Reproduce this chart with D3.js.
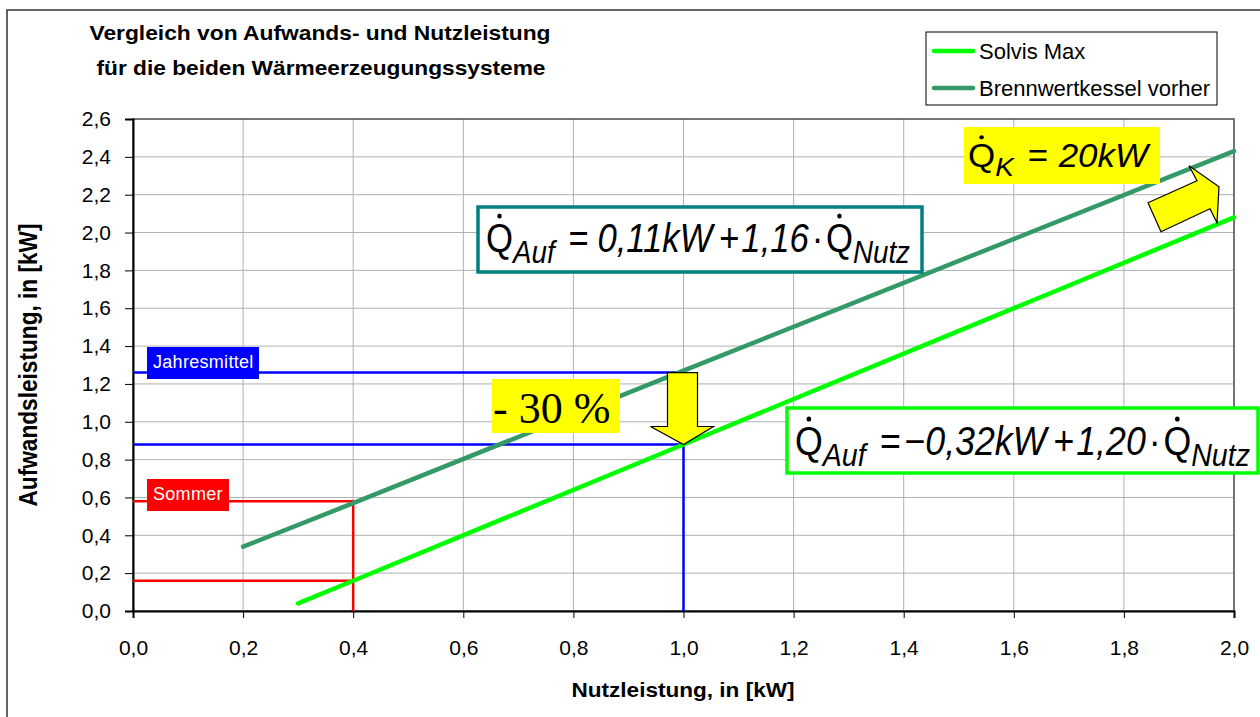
<!DOCTYPE html>
<html>
<head>
<meta charset="utf-8">
<script src="https://cdn.jsdelivr.net/npm/d3@7.9.0/dist/d3.min.js"></script>
<style>
  body { margin: 0; background: #fff; }
  svg { display: block; font-family: "Liberation Sans", Arial, sans-serif; }
</style>
</head>
<body>
<svg width="1260" height="717"></svg>
<script>
// Chart data
const xTicks = [0, 0.2, 0.4, 0.6, 0.8, 1.0, 1.2, 1.4, 1.6, 1.8, 2.0];
const yTicks = [0, 0.2, 0.4, 0.6, 0.8, 1.0, 1.2, 1.4, 1.6, 1.8, 2.0, 2.2, 2.4, 2.6];

const seriesNames = ['Solvis Max', 'Brennwertkessel vorher'];
const seriesColors = ['#00ff00', '#339966'];
const solvisX = [0.3, 0.4, 1.0, 2.0];
const solvisY = [0.04, 0.16, 0.88, 2.08];
const kesselX = [0.2, 0.4, 1.0, 2.0];
const kesselY = [0.34, 0.57, 1.27, 2.43];

// Markierungen Sommer / Jahresmittel
const sommerX = 0.4;
const sommerY = [0.58, 0.16];
const jahrX = 1.0;
const jahrY = [1.26, 0.88];

const svg = d3.select('svg');
const x = d3.scaleLinear().domain([0, 2]).range([133, 1234]);
const y = d3.scaleLinear().domain([0, 2.6]).range([611, 119]);
const fmt = (d) => d3.format('.1f')(d).replace('.', ',');

// outer frame
svg.append('rect').attr('x', 7).attr('y', 10).attr('width', 1300).attr('height', 760)
  .attr('fill', 'none').attr('stroke', '#333').attr('stroke-width', 1.5);

// grid
svg.append('g').selectAll('line').data(xTicks.slice(1)).join('line')
  .attr('x1', (d) => x(d)).attr('x2', (d) => x(d)).attr('y1', y(0)).attr('y2', y(2.6))
  .attr('stroke', '#b0b0b0').attr('stroke-width', 1);
svg.append('g').selectAll('line').data(yTicks.slice(1)).join('line')
  .attr('x1', x(0)).attr('x2', x(2)).attr('y1', (d) => y(d)).attr('y2', (d) => y(d))
  .attr('stroke', '#b0b0b0').attr('stroke-width', 1);
svg.append('rect').attr('x', x(0)).attr('y', y(2.6)).attr('width', x(2) - x(0)).attr('height', y(0) - y(2.6))
  .attr('fill', 'none').attr('stroke', '#555').attr('stroke-width', 1.5);

// axes
const xAxis = svg.append('g').attr('transform', `translate(0,${y(0)})`)
  .call(d3.axisBottom(x).tickValues(xTicks).tickFormat(fmt).tickSize(7).tickPadding(22));
const yAxis = svg.append('g').attr('transform', `translate(${x(0)},0)`)
  .call(d3.axisLeft(y).tickValues(yTicks).tickFormat(fmt).tickSize(8).tickPadding(14));
[xAxis, yAxis].forEach((a) => {
  a.select('.domain').attr('stroke', '#000').attr('stroke-width', 2);
  a.selectAll('.tick line').attr('stroke', '#000');
  a.selectAll('text').attr('font-size', 21).attr('fill', '#000')
    .attr('font-family', '"Liberation Sans", Arial, sans-serif');
});

// reference lines
const ref = svg.append('g').attr('fill', 'none').attr('stroke-width', 2.5);
ref.append('path').attr('stroke', '#ff0000')
  .attr('d', `M${x(0)},${y(sommerY[0])}H${x(sommerX)}V${y(0)}M${x(0)},${y(sommerY[1])}H${x(sommerX)}`);
ref.append('path').attr('stroke', '#0000ff')
  .attr('d', `M${x(0)},${y(jahrY[0])}H${x(jahrX)}M${x(0)},${y(jahrY[1])}H${x(jahrX)}V${y(0)}`);

// data lines
const line = d3.line().x((d) => x(d[0])).y((d) => y(d[1]));
[[kesselX, kesselY, seriesColors[1]], [solvisX, solvisY, seriesColors[0]]].forEach(([xs, ys, c]) => {
  svg.append('path').datum(xs.map((v, i) => [v, ys[i]])).attr('d', line)
    .attr('fill', 'none').attr('stroke', c).attr('stroke-width', 4.5).attr('stroke-linecap', 'round');
});

// labels on reference lines
function tag(bx, by, w, h, fill, label) {
  svg.append('rect').attr('x', bx).attr('y', by).attr('width', w).attr('height', h).attr('fill', fill);
  svg.append('text').attr('x', bx + 6).attr('y', by + h - 11).attr('fill', '#fff')
    .attr('font-size', 18).attr('letter-spacing', 0.3).text(label);
}
tag(147, 347, 112, 32, '#0000ff', 'Jahresmittel');
tag(147, 479, 82, 32, '#ff0000', 'Sommer');

// formula helper
function formula(x0, y0, width, size, parts) {
  const g = svg.append('g');
  let cx = 0;
  parts.forEach((p) => {
    if (p.gap) { cx += p.gap * size; return; }
    const fs = p.sub ? size * 0.8 : size;
    const t = g.append('text').attr('x', cx).attr('y', p.sub ? size * 0.27 : 0)
      .attr('font-size', fs).attr('font-style', p.it ? 'italic' : 'normal').attr('fill', '#000').text(p.t);
    const w = t.node().getComputedTextLength();
    if (p.dot) g.append('circle').attr('cx', cx + w * 0.5).attr('cy', -size * 0.9).attr('r', size * 0.065);
    cx += w;
  });
  g.attr('transform', `translate(${x0},${y0}) scale(${width / cx},1)`);
}

// Kessel equation
svg.append('rect').attr('x', 478).attr('y', 207).attr('width', 444).attr('height', 65)
  .attr('fill', '#fff').attr('stroke', '#008080').attr('stroke-width', 3.5);
formula(486, 252, 424, 40, [
  { t: 'Q', dot: true }, { t: 'Auf', sub: true, it: true }, { gap: 0.4 }, { t: '=' }, { gap: 0.25 },
  { t: '0,11kW', it: true }, { gap: 0.2 }, { t: '+' }, { gap: 0.05 }, { t: '1,16', it: true },
  { gap: 0.08 }, { t: '·' }, { gap: 0.08 }, { t: 'Q', dot: true }, { t: 'Nutz', sub: true, it: true }
]);

// Solvis equation
svg.append('rect').attr('x', 787).attr('y', 408).attr('width', 471).attr('height', 65)
  .attr('fill', '#fff').attr('stroke', '#00ff00').attr('stroke-width', 3.5);
formula(795, 455, 455, 40, [
  { t: 'Q', dot: true }, { t: 'Auf', sub: true, it: true }, { gap: 0.4 }, { t: '=' }, { gap: 0.1 },
  { t: '−' }, { t: '0,32kW', it: true }, { gap: 0.2 }, { t: '+' }, { gap: 0.05 }, { t: '1,20', it: true },
  { gap: 0.08 }, { t: '·' }, { gap: 0.08 }, { t: 'Q', dot: true }, { t: 'Nutz', sub: true, it: true }
]);

// Kesselleistung
svg.append('rect').attr('x', 964).attr('y', 127).attr('width', 196).attr('height', 57).attr('fill', '#ffff00');
formula(968, 167, 180, 33, [
  { t: 'Q', dot: true }, { t: 'K', sub: true, it: true }, { gap: 0.4 }, { t: '=' }, { gap: 0.3 },
  { t: '20kW', it: true }
]);

// -30 %
svg.append('rect').attr('x', 492).attr('y', 379).attr('width', 128).attr('height', 54).attr('fill', '#ffff00');
svg.append('text').attr('x', 493).attr('y', 423).attr('font-family', '"Liberation Serif", "Times New Roman", serif')
  .attr('font-size', 44).attr('fill', '#000').text('- 30 %');

// down arrow from Jahresmittel Kessel to Solvis
const ax = x(jahrX), aTop = y(jahrY[0]), aTip = y(jahrY[1]);
svg.append('path')
  .attr('d', `M${ax - 16},${aTop}H${ax + 14}V${aTip - 18}H${ax + 30}L${ax},${aTip}L${ax - 33},${aTip - 18}H${ax - 16}Z`)
  .attr('fill', '#ffff00').attr('stroke', '#000').attr('stroke-width', 1.2);

// block arrow at the right
const rx = x(2), ry = y(2.2);
const rPts = [[-86, 8], [-73, 37], [-24, 14], [-17, 28], [-15, -8], [-45, -29], [-37, -14]];
svg.append('polygon').attr('points', rPts.map((p) => [rx + p[0], ry + p[1]].join(',')).join(' '))
  .attr('fill', '#ffff00').attr('stroke', '#000').attr('stroke-width', 1.2);

// legend
const lg = svg.append('g');
lg.append('rect').attr('x', 926).attr('y', 32).attr('width', 291).attr('height', 73)
  .attr('fill', '#fff').attr('stroke', '#000').attr('stroke-width', 1);
seriesNames.forEach((n, i) => {
  const ly = 51 + i * 37;
  lg.append('line').attr('x1', 934).attr('x2', 973).attr('y1', ly).attr('y2', ly)
    .attr('stroke', seriesColors[i]).attr('stroke-width', 4.5).attr('stroke-linecap', 'round');
  lg.append('text').attr('x', 979).attr('y', ly + 8).attr('font-size', 22).attr('fill', '#000').text(n);
});

// titles
const title = svg.append('text').attr('font-size', 21).attr('font-weight', 'bold')
  .attr('text-anchor', 'middle').attr('fill', '#000');
title.append('tspan').attr('x', 320).attr('y', 40).attr('textLength', 461).attr('lengthAdjust', 'spacingAndGlyphs')
  .text('Vergleich von Aufwands- und Nutzleistung');
title.append('tspan').attr('x', 321).attr('y', 75).attr('textLength', 449).attr('lengthAdjust', 'spacingAndGlyphs')
  .text('für die beiden Wärmeerzeugungssysteme');

svg.append('text').attr('x', 683).attr('y', 697).attr('text-anchor', 'middle')
  .attr('font-size', 21).attr('font-weight', 'bold').attr('textLength', 223).attr('lengthAdjust', 'spacingAndGlyphs')
  .text('Nutzleistung, in [kW]');
svg.append('text').attr('transform', `translate(37,${(y(0) + y(2.6)) / 2}) rotate(-90)`).attr('text-anchor', 'middle')
  .attr('font-size', 25).attr('font-weight', 'bold').attr('textLength', 283).attr('lengthAdjust', 'spacingAndGlyphs')
  .text('Aufwandsleistung, in [kW]');
</script>
</body>
</html>
